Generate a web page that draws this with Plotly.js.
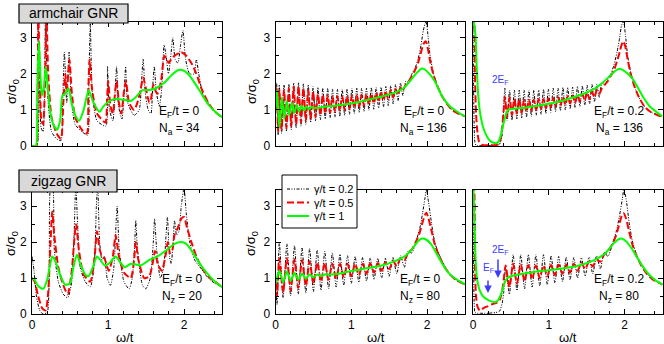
<!DOCTYPE html>
<html><head><meta charset="utf-8">
<script src="https://cdn.plot.ly/plotly-3.0.1.min.js"></script>
<style>html,body{margin:0;padding:0;background:#fff}#plot{width:664px;height:344px}</style>
</head><body><div id="plot"></div>
<script>
// ---------- Panel 1: armchair, Na = 34, EF/t = 0 ----------
const p1_x_black = [0,0.062,0.075,0.098,0.12,0.146,0.177,0.204,0.257,0.324,0.381,0.403,0.426,0.457,0.488,0.514,0.567,0.656,0.731,0.749,0.767,0.793,0.855,0.971,0.993,1.02,1.064,1.095,1.113,1.139,1.184,1.215,1.232,1.259,1.343,1.41,1.441,1.463,1.489,1.529,1.565,1.587,1.609,1.636,1.676,1.707,1.738,1.764,1.795,1.822,1.853,1.884,1.919,1.955,1.986,2.021,2.074,2.132,2.163,2.194,2.252,2.318,2.407,2.5];
const p1_y_black = [0,0,3.6,2.5,0.5,0.4,3.6,1.5,0.4,0.2,0.15,1.2,2.6,1.2,2.6,1.4,0.6,0.4,0.3,1.8,3.4,1.5,0.7,0.55,2.2,1.0,0.7,1.6,2.2,1.1,0.75,1.6,2.2,1.2,0.85,1.0,1.8,2.4,1.5,1.0,0.9,1.6,2.2,1.5,1.1,1.6,2.8,2.5,2.0,2.4,3.0,2.4,2.3,2.8,3.2,2.4,2.0,2.0,2.4,2.0,1.4,1.2,0.95,0.8];
const p1_x_red = [0,0.058,0.071,0.084,0.102,0.124,0.146,0.168,0.191,0.213,0.257,0.324,0.381,0.412,0.439,0.457,0.492,0.523,0.567,0.656,0.723,0.74,0.758,0.789,0.855,0.966,0.988,1.002,1.033,1.064,1.09,1.113,1.144,1.175,1.21,1.237,1.277,1.343,1.387,1.432,1.463,1.498,1.543,1.565,1.596,1.631,1.653,1.698,1.742,1.773,1.8,1.831,1.875,1.964,2.03,2.097,2.163,2.229,2.318,2.407,2.5];
const p1_y_red = [0,0,1.0,3.6,2.0,0.7,0.6,1.5,3.6,2.0,0.8,0.35,0.2,1.2,2.0,1.5,2.4,1.5,0.8,0.45,0.35,1.5,2.4,1.6,0.9,0.65,1.3,1.8,1.1,0.9,1.4,1.8,1.2,0.9,1.5,1.8,1.2,1.0,1.2,1.6,1.9,1.6,1.2,1.3,1.7,1.5,1.45,1.8,2.5,2.4,2.3,2.4,2.5,2.6,2.5,2.3,2.0,1.6,1.2,0.95,0.8];
const p1_x_green = [0,0.05,0.07,0.09,0.11,0.13,0.155,0.18,0.2,0.235,0.28,0.33,0.37,0.4,0.435,0.48,0.52,0.57,0.62,0.68,0.745,0.81,0.89,0.94,0.99,1.055,1.12,1.21,1.3,1.365,1.455,1.545,1.63,1.74,1.83,1.92,1.985,2.05,2.14,2.23,2.32,2.41,2.5];
const p1_y_green = [0,0,1.5,2.9,2.0,1.4,1.6,2.2,1.8,1.0,0.6,0.45,0.7,1.4,1.45,1.6,1.2,0.85,0.7,1.0,1.55,1.2,0.95,1.1,1.2,1.28,1.3,1.28,1.25,1.35,1.55,1.55,1.6,1.75,1.95,2.1,2.1,2.0,1.75,1.45,1.15,0.95,0.8];

// ---------- Panel 2: armchair, Na = 136, EF/t = 0 ----------
const p2_x_osc = [0,0.015,0.035,0.05,0.08,0.112,0.144,0.176,0.208,0.24,0.272,0.304,0.336,0.368,0.4,0.432,0.464,0.496,0.528,0.56,0.592,0.624,0.656,0.688,0.72,0.752,0.784,0.816,0.848,0.88,0.912,0.944,0.976,1.008,1.04,1.072,1.104,1.136,1.168,1.2,1.232,1.264,1.296,1.328,1.36,1.392,1.424,1.456,1.488,1.52,1.552,1.584,1.616,1.648,1.68,1.72,1.76,1.8,1.84,1.88,1.92,1.95,1.985,2.01,2.04,2.08,2.12,2.18,2.25,2.33,2.41,2.5];
const p2_y_black = [1.0,1.75,0.3,1.7,0.35,1.7,0.4,1.72,0.45,1.75,0.5,1.75,0.55,1.72,0.6,1.7,0.65,1.65,0.7,1.62,0.72,1.6,0.75,1.6,0.78,1.58,0.8,1.58,0.82,1.58,0.85,1.58,0.88,1.6,0.9,1.6,0.93,1.6,0.96,1.6,0.99,1.62,1.02,1.62,1.05,1.63,1.08,1.65,1.12,1.67,1.17,1.7,1.25,1.75,1.4,1.8,1.75,2.0,2.15,2.4,2.8,3.2,3.45,3.1,2.5,2.05,1.75,1.45,1.2,1.0,0.9,0.82];
const p2_y_red = [1.0,1.6,0.4,1.55,0.45,1.55,0.5,1.6,0.55,1.65,0.6,1.65,0.65,1.6,0.7,1.55,0.75,1.5,0.8,1.45,0.85,1.42,0.9,1.4,0.92,1.38,0.95,1.38,0.98,1.38,1.0,1.38,1.03,1.4,1.06,1.4,1.09,1.42,1.12,1.43,1.15,1.45,1.18,1.47,1.22,1.5,1.26,1.52,1.3,1.55,1.35,1.58,1.42,1.62,1.55,1.7,1.8,1.95,2.1,2.3,2.6,2.82,2.9,2.7,2.35,2.0,1.75,1.45,1.2,1.0,0.9,0.82];
const p2_x_green = [0,0.02,0.05,0.085,0.115,0.15,0.18,0.215,0.245,0.28,0.31,0.345,0.375,0.41,0.44,0.475,0.5,0.6,0.7,0.8,0.9,1.0,1.1,1.2,1.3,1.4,1.5,1.6,1.7,1.79,1.86,1.9,1.93,1.97,2.03,2.1,2.2,2.3,2.4,2.45,2.5];
const p2_y_green = [1.0,1.55,0.5,1.35,0.75,1.25,0.85,1.2,0.9,1.15,0.95,1.12,0.98,1.1,1.02,1.08,1.05,1.07,1.1,1.12,1.15,1.18,1.22,1.27,1.32,1.37,1.43,1.5,1.62,1.84,2.02,2.1,2.15,2.12,2.0,1.8,1.37,1.1,0.95,0.88,0.82];

// ---------- Panel 3: armchair, Na = 136, EF/t = 0.2 ----------
const p3_x_osc = [0,0.01,0.025,0.04,0.06,0.08,0.12,0.2,0.28,0.33,0.36,0.385,0.405,0.42,0.45,0.482,0.514,0.546,0.578,0.61,0.642,0.674,0.706,0.738,0.77,0.802,0.834,0.866,0.898,0.93,0.962,0.994,1.026,1.058,1.09,1.122,1.154,1.186,1.218,1.25,1.282,1.314,1.346,1.378,1.41,1.442,1.474,1.506,1.538,1.57,1.602,1.634,1.666,1.7,1.74,1.78,1.82,1.86,1.9,1.935,1.96,1.985,2.01,2.04,2.08,2.13,2.19,2.26,2.34,2.42,2.5];
const p3_y_black = [3.6,1.2,0.1,0.02,0.01,0.01,0.01,0.01,0.01,0.02,0.08,0.3,1.1,1.6,0.7,1.55,0.72,1.55,0.75,1.55,0.78,1.55,0.8,1.55,0.82,1.55,0.85,1.55,0.88,1.57,0.9,1.58,0.93,1.6,0.95,1.6,0.98,1.62,1.0,1.62,1.03,1.63,1.06,1.65,1.1,1.67,1.13,1.68,1.17,1.7,1.22,1.72,1.35,1.75,1.7,1.85,2.0,2.25,2.6,3.0,3.35,3.45,3.1,2.5,2.05,1.65,1.35,1.1,0.95,0.87,0.8];
const p3_y_red = [3.6,3.6,2.0,0.9,0.35,0.12,0.03,0.02,0.02,0.05,0.15,0.5,1.0,1.35,0.8,1.35,0.85,1.3,0.9,1.3,0.92,1.28,0.95,1.28,0.98,1.28,1.0,1.3,1.03,1.3,1.05,1.32,1.07,1.33,1.1,1.35,1.12,1.37,1.15,1.38,1.18,1.4,1.2,1.42,1.24,1.45,1.27,1.48,1.3,1.5,1.35,1.55,1.45,1.6,1.7,1.8,1.95,2.1,2.35,2.6,2.8,2.9,2.75,2.4,2.0,1.65,1.35,1.1,0.95,0.87,0.8];
const p3_x_green = [0,0.01,0.035,0.045,0.066,0.088,0.13,0.175,0.22,0.285,0.33,0.36,0.395,0.43,0.46,0.5,0.7,1.0,1.2,1.45,1.6,1.71,1.8,1.87,1.93,1.98,2.1,2.24,2.33,2.41,2.5];
const p3_y_green = [3.6,3.45,3.0,2.4,1.5,1.0,0.55,0.3,0.15,0.08,0.1,0.25,0.55,0.85,1.0,1.02,1.07,1.17,1.27,1.44,1.58,1.75,1.93,2.07,2.14,2.1,1.88,1.37,1.1,0.96,0.82];

// ---------- Panel 4: zigzag, Nz = 20, EF/t = 0 ----------
const p4_x_black = [0,0.027,0.058,0.102,0.146,0.2,0.226,0.248,0.27,0.293,0.346,0.412,0.47,0.523,0.554,0.576,0.6,0.634,0.7,0.767,0.82,0.847,0.864,0.89,0.922,0.953,0.988,1.033,1.077,1.108,1.121,1.148,1.21,1.277,1.32,1.352,1.365,1.388,1.454,1.498,1.556,1.596,1.613,1.64,1.689,1.733,1.764,1.782,1.809,1.831,1.857,1.875,1.902,1.933,1.964,2.0,2.03,2.075,2.141,2.23,2.318,2.407,2.5];
const p4_y_black = [1.6,1.2,0.5,0.1,0.0,0.05,1.0,3.6,3.6,1.8,0.9,0.55,0.45,0.9,2.2,3.6,2.5,1.3,0.9,0.75,1.4,3.0,3.6,2.0,1.5,1.6,1.0,0.8,1.3,2.6,3.0,1.8,0.9,0.7,1.0,2.0,2.6,1.8,0.8,0.7,1.0,2.0,2.65,1.8,1.0,1.3,2.2,2.7,1.6,1.4,2.0,2.6,2.2,2.3,3.0,3.5,2.8,2.0,1.5,1.25,1.0,0.85,0.75];
const p4_x_red = [0,0.035,0.08,0.137,0.18,0.213,0.244,0.266,0.293,0.346,0.412,0.47,0.523,0.558,0.58,0.616,0.678,0.767,0.824,0.855,0.89,0.922,0.953,1.01,1.064,1.1,1.144,1.21,1.3,1.343,1.365,1.4,1.476,1.543,1.587,1.618,1.653,1.707,1.764,1.786,1.817,1.844,1.875,1.92,1.964,2.0,2.04,2.097,2.163,2.23,2.318,2.407,2.5];
const p4_y_red = [1.0,0.9,0.5,0.15,0.1,0.6,2.0,2.85,2.2,1.3,0.8,0.55,1.2,2.1,2.5,1.8,1.1,0.9,1.6,2.3,1.8,1.6,1.55,1.2,1.6,2.2,1.6,1.15,1.0,1.5,2.0,1.5,1.0,1.05,1.4,1.75,1.4,1.2,1.7,2.0,1.7,1.75,2.2,2.4,2.65,2.7,2.4,2.0,1.6,1.3,1.05,0.9,0.75];
const p4_x_green = [0,0.035,0.08,0.146,0.2,0.235,0.266,0.31,0.368,0.434,0.5,0.545,0.59,0.634,0.7,0.745,0.8,0.855,0.9,0.957,1.01,1.1,1.157,1.22,1.3,1.365,1.43,1.54,1.65,1.786,1.875,1.964,2.03,2.12,2.207,2.296,2.407,2.5];
const p4_y_green = [1.0,0.95,0.78,0.7,0.95,1.35,1.6,1.45,1.1,0.82,0.85,1.3,1.65,1.4,1.1,1.05,1.3,1.6,1.5,1.35,1.4,1.6,1.45,1.3,1.4,1.38,1.35,1.5,1.6,1.8,1.95,2.0,1.95,1.7,1.4,1.15,0.9,0.75];

// ---------- Panel 5: zigzag, Nz = 80, EF/t = 0 ----------
const p5_x_osc = [0,0.02,0.05,0.1,0.15,0.2,0.25,0.3,0.35,0.4,0.45,0.5,0.55,0.6,0.65,0.7,0.75,0.8,0.85,0.9,0.95,1.0,1.05,1.1,1.15,1.2,1.25,1.3,1.35,1.4,1.45,1.5,1.55,1.6,1.65,1.7,1.75,1.8,1.85,1.9,1.94,1.97,1.99,2.02,2.06,2.1,2.15,2.22,2.3,2.38,2.45,2.5];
const p5_y_black = [1.0,0.25,2.0,0.45,1.95,0.5,1.9,0.55,1.85,0.58,1.82,0.62,1.78,0.66,1.74,0.7,1.7,0.75,1.66,0.8,1.62,0.85,1.6,0.88,1.58,0.92,1.56,0.96,1.55,1.0,1.55,1.05,1.57,1.12,1.62,1.3,1.75,1.7,2.0,2.35,2.8,3.2,3.45,3.1,2.5,2.0,1.7,1.38,1.1,0.95,0.87,0.82];
const p5_y_red = [0.9,0.5,1.55,0.6,1.55,0.65,1.52,0.72,1.5,0.78,1.47,0.84,1.44,0.9,1.42,0.95,1.4,0.98,1.4,1.02,1.4,1.05,1.4,1.08,1.4,1.12,1.41,1.15,1.42,1.2,1.45,1.25,1.48,1.33,1.55,1.5,1.7,1.8,2.0,2.25,2.55,2.75,2.82,2.65,2.3,1.95,1.65,1.35,1.1,0.95,0.87,0.82];
const p5_x_green = [0,0.05,0.1,0.15,0.2,0.25,0.3,0.35,0.4,0.45,0.5,0.55,0.6,0.65,0.75,0.9,1.0,1.2,1.4,1.55,1.7,1.8,1.87,1.93,1.98,2.05,2.12,2.2,2.28,2.36,2.44,2.5];
const p5_y_green = [0.85,1.2,0.88,1.18,0.92,1.15,0.95,1.13,0.98,1.1,1.02,1.1,1.05,1.1,1.1,1.15,1.2,1.27,1.35,1.45,1.6,1.8,2.0,2.1,2.08,1.95,1.7,1.4,1.15,1.0,0.9,0.83];

// ---------- Panel 6: zigzag, Nz = 80, EF/t = 0.2 ----------
const p6_x_osc = [0,0.01,0.025,0.04,0.06,0.09,0.15,0.2,0.25,0.3,0.35,0.385,0.405,0.43,0.48,0.53,0.58,0.63,0.68,0.73,0.78,0.83,0.88,0.93,0.98,1.03,1.08,1.13,1.18,1.23,1.28,1.33,1.38,1.43,1.48,1.53,1.58,1.63,1.68,1.73,1.78,1.84,1.89,1.93,1.97,1.99,2.02,2.06,2.1,2.15,2.22,2.3,2.38,2.45,2.5];
const p6_y_black = [3.6,1.0,0.05,0.02,0.02,0.02,0.02,0.02,0.03,0.04,0.08,0.3,0.6,1.3,0.55,1.65,0.65,1.65,0.7,1.65,0.75,1.65,0.78,1.65,0.82,1.62,0.86,1.6,0.9,1.58,0.95,1.57,1.0,1.57,1.05,1.58,1.12,1.62,1.25,1.72,1.6,1.95,2.3,2.7,3.2,3.45,3.2,2.55,2.05,1.7,1.38,1.12,0.96,0.87,0.82];
const p6_y_red = [3.6,3.6,1.3,0.5,0.2,0.1,0.18,0.22,0.27,0.3,0.38,0.65,0.95,1.35,0.75,1.4,0.85,1.38,0.92,1.36,0.97,1.35,1.0,1.35,1.05,1.36,1.08,1.37,1.12,1.38,1.15,1.4,1.2,1.43,1.25,1.46,1.32,1.52,1.45,1.65,1.75,1.95,2.2,2.5,2.78,2.8,2.65,2.3,1.95,1.65,1.35,1.1,0.95,0.87,0.82];
const p6_x_green = [0,0.01,0.025,0.04,0.06,0.09,0.13,0.175,0.24,0.29,0.33,0.37,0.415,0.445,0.5,0.6,0.8,1.0,1.2,1.4,1.6,1.75,1.85,1.92,1.96,2.03,2.1,2.2,2.3,2.4,2.5];
const p6_y_green = [3.6,3.3,2.1,1.3,0.9,0.65,0.5,0.42,0.35,0.33,0.38,0.55,0.85,0.98,1.05,1.1,1.17,1.22,1.27,1.35,1.5,1.7,1.95,2.08,2.1,2.0,1.8,1.45,1.15,0.95,0.82];

const seriesNames = ['γ/t = 0.2', 'γ/t = 0.5', 'γ/t = 1'];
const panelLabels = [
  ['E<sub>F</sub>/t = 0', 'N<sub>a</sub> = 34'],
  ['E<sub>F</sub>/t = 0', 'N<sub>a</sub> = 136'],
  ['E<sub>F</sub>/t = 0.2', 'N<sub>a</sub> = 136'],
  ['E<sub>F</sub>/t = 0', 'N<sub>z</sub> = 20'],
  ['E<sub>F</sub>/t = 0', 'N<sub>z</sub> = 80'],
  ['E<sub>F</sub>/t = 0.2', 'N<sub>z</sub> = 80']
];
const boxLabels = ['armchair GNR', 'zigzag GNR'];
const xTickVals = [0, 1, 2];
const yTickVals = [0, 1, 2, 3];

// ---------- build ----------
const FONT = 'Liberation Sans, Arial, Helvetica, sans-serif';
const styles = [
  {color: '#000000', width: 1, dash: '3px,1.5px,1px,1.5px,1px,1.5px'},
  {color: '#ff0000', width: 2, dash: '7px,3px'},
  {color: '#00ff00', width: 2, dash: 'solid'}
];
const panels = [
  [[p1_x_black, p1_y_black], [p1_x_red, p1_y_red], [p1_x_green, p1_y_green]],
  [[p2_x_osc, p2_y_black], [p2_x_osc, p2_y_red], [p2_x_green, p2_y_green]],
  [[p3_x_osc, p3_y_black], [p3_x_osc, p3_y_red], [p3_x_green, p3_y_green]],
  [[p4_x_black, p4_y_black], [p4_x_red, p4_y_red], [p4_x_green, p4_y_green]],
  [[p5_x_osc, p5_y_black], [p5_x_osc, p5_y_red], [p5_x_green, p5_y_green]],
  [[p6_x_osc, p6_y_black], [p6_x_osc, p6_y_red], [p6_x_green, p6_y_green]]
];
const traces = [];
panels.forEach((p, i) => {
  const n = i === 0 ? '' : String(i + 1);
  p.forEach((s, k) => {
    traces.push({
      type: 'scatter', mode: 'lines', x: s[0], y: s[1],
      xaxis: 'x' + n, yaxis: 'y' + n,
      name: seriesNames[k], showlegend: false,
      line: {color: styles[k].color, width: styles[k].width, dash: styles[k].dash, shape: 'spline', smoothing: 0.6}
    });
  });
});

const W = 664, H = 344;
const px = v => v / W, py = v => (H - v) / H;
const xDomains = [[px(32), px(222)], [px(275.5), px(465)], [px(473), px(662.5)]];
const yDomains = [[py(146), py(21.5)], [py(314), py(190)]];

const layout = {
  width: W, height: H, margin: {l: 0, r: 0, t: 0, b: 0},
  paper_bgcolor: '#fff', plot_bgcolor: '#fff',
  font: {family: FONT, size: 12, color: '#000'},
  showlegend: false,
  annotations: [], shapes: []
};
for (let i = 0; i < 6; i++) {
  const n = i === 0 ? '' : String(i + 1);
  const col = i % 3, row = Math.floor(i / 3);
  const common = {showline: true, linecolor: '#000', linewidth: 1, mirror: 'allticks', ticks: 'inside',
    ticklen: 5, tickwidth: 1, tickcolor: '#000', showgrid: false, zeroline: false,
    tickfont: {family: FONT, size: 12, color: '#000'}, fixedrange: true};
  layout['xaxis' + n] = Object.assign({}, common, {
    domain: xDomains[col], range: [0, 2.5], anchor: 'y' + n,
    tickvals: xTickVals, showticklabels: row === 1,
    minor: {dtick: 0.2, tick0: 0, ticks: 'inside', ticklen: 3, tickcolor: '#000', showgrid: false}
  });
  layout['yaxis' + n] = Object.assign({}, common, {
    domain: yDomains[row], range: [0, 3.45], anchor: 'x' + n,
    tickvals: yTickVals, showticklabels: col < 2, ticklabelstandoff: 2,
    minor: {dtick: 0.5, tick0: 0, ticks: 'inside', ticklen: 3, tickcolor: '#000', showgrid: false}
  });
}
// legend (drawn in panel 5 area)
const legBox = [282, 357, 175, 228];
layout.shapes.push({type: 'rect', xref: 'paper', yref: 'paper', x0: px(legBox[0]), x1: px(legBox[1]),
  y0: py(legBox[3]), y1: py(legBox[2]), fillcolor: '#fff', line: {color: '#000', width: 1}, layer: 'above'});
[189, 202.5, 216].forEach((yy, k) => {
  layout.shapes.push({type: 'line', xref: 'paper', yref: 'paper', x0: px(287), x1: px(309),
    y0: py(yy), y1: py(yy), line: {color: styles[k].color, width: styles[k].width, dash: styles[k].dash}, layer: 'above'});
  layout.annotations.push({xref: 'paper', yref: 'paper', x: px(312), y: py(yy), xanchor: 'left', yanchor: 'middle',
    text: seriesNames[k], showarrow: false, font: {family: FONT, size: 11, color: '#000'}});
});
// panel labels
const labelX = [179, 423.5, 619, 182, 420, 618.5];
const labelY = [[112, 129], [112, 129], [112, 129], [280, 297], [280, 297], [280, 297]];
panelLabels.forEach((lab, i) => {
  lab.forEach((t, j) => {
    layout.annotations.push({xref: 'paper', yref: 'paper', x: px(labelX[i]), y: py(labelY[i][j]),
      xanchor: 'center', yanchor: 'middle', text: t, showarrow: false,
      font: {family: FONT, size: 12, color: '#000'}});
  });
});
// axis titles
[[12, 92], [252, 92], [12, 244], [252, 244]].forEach(p => {
  layout.annotations.push({xref: 'paper', yref: 'paper', x: px(p[0]), y: py(p[1]), textangle: -90,
    xanchor: 'center', yanchor: 'middle', text: 'σ/σ<sub>0</sub>', showarrow: false,
    font: {family: FONT, size: 13, color: '#000'}});
});
[125, 376, 568].forEach(xx => {
  layout.annotations.push({xref: 'paper', yref: 'paper', x: px(xx), y: py(337),
    xanchor: 'center', yanchor: 'middle', text: 'ω/t', showarrow: false,
    font: {family: FONT, size: 13, color: '#000'}});
});
// grey boxes
[[19, 128, 4, 23], [19, 117, 170, 192]].forEach((b, i) => {
  layout.shapes.push({type: 'rect', xref: 'paper', yref: 'paper', x0: px(b[0]), x1: px(b[1]),
    y0: py(b[3]), y1: py(b[2]), fillcolor: '#d9d9d9', line: {color: '#000', width: 1.2}, layer: 'above'});
  layout.annotations.push({xref: 'paper', yref: 'paper', x: px((b[0] + b[1]) / 2), y: py((b[2] + b[3]) / 2),
    xanchor: 'center', yanchor: 'middle', text: boxLabels[i], showarrow: false,
    font: {family: FONT, size: 14, color: '#000'}});
});
// blue markers
const BLUE = '#3b3bff';
layout.annotations.push({xref: 'paper', yref: 'paper', x: px(500), y: py(80), text: '2E<sub>F</sub>',
  showarrow: false, xanchor: 'center', yanchor: 'middle', font: {family: FONT, size: 10, color: BLUE}});
layout.annotations.push({xref: 'paper', yref: 'paper', x: px(500), y: py(250), text: '2E<sub>F</sub>',
  showarrow: false, xanchor: 'center', yanchor: 'middle', font: {family: FONT, size: 10, color: BLUE}});
layout.annotations.push({xref: 'paper', yref: 'paper', x: px(488), y: py(268), text: 'E<sub>F</sub>',
  showarrow: false, xanchor: 'center', yanchor: 'middle', font: {family: FONT, size: 10, color: BLUE}});
layout.annotations.push({xref: 'paper', yref: 'paper', x: px(498), y: py(278), text: '', showarrow: true,
  ax: 0, ay: -20, arrowhead: 2, arrowsize: 1, arrowwidth: 1.5, arrowcolor: BLUE});
layout.annotations.push({xref: 'paper', yref: 'paper', x: px(488), y: py(293), text: '', showarrow: true,
  ax: 0, ay: -14, arrowhead: 2, arrowsize: 1, arrowwidth: 1.5, arrowcolor: BLUE});

Plotly.newPlot('plot', traces, layout, {displayModeBar: false, staticPlot: true});
</script></body></html>
